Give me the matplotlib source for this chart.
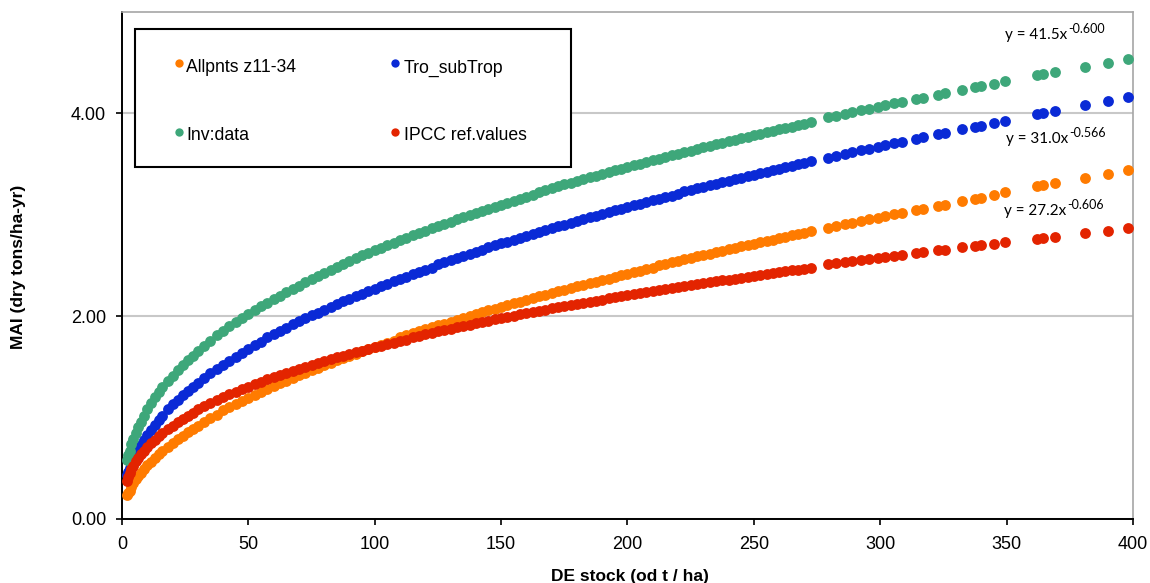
import matplotlib
matplotlib.use('Agg')
import matplotlib.pyplot as plt
from matplotlib.patches import Rectangle

plt.rcParams['font.family'] = ['Liberation Sans', 'DejaVu Sans']

# DE stock (od t/ha) - dense part up to ~273, then the scattered points
de_stock = [2, 2.5, 3, 3.75, 4.5, 5.5, 6.5, 7.5, 8.75, 10,
            11.5, 13, 14.5, 16, 18, 20, 22, 24, 26, 28,
            30, 32.5, 35, 37.5, 40, 42.5, 45, 47.5, 50, 52.5,
            55, 57.5, 60, 62.5, 65, 67.5, 70, 72.5, 75, 77.5,
            80, 82.5, 85, 87.5, 90, 92.5, 95, 97.5, 100, 102.5,
            105, 107.5, 110, 112.5, 115, 117.5, 120, 122.5, 125, 127.5,
            130, 132.5, 135, 137.5, 140, 142.5, 145, 147.5, 150, 152.5,
            155, 157.5, 160, 162.5, 165, 167.5, 170, 172.5, 175, 177.5,
            180, 182.5, 185, 187.5, 190, 192.5, 195, 197.5, 200, 202.5,
            205, 207.5, 210, 212.5, 215, 217.5, 220, 222.5, 225, 227.5,
            230, 232.5, 235, 237.5, 240, 242.5, 245, 247.5, 250, 252.5,
            255, 257.5, 260, 262.5, 265, 267.5, 270, 272.5,
            279.5, 282.5, 286, 289, 292.5, 295.5, 299, 302, 305.5, 308.5,
            314, 317, 323, 325.5, 332.5, 337.5, 340, 345, 349.5, 362,
            364.5, 369, 381, 390, 398]

# MAI (dry tons/ha-yr)
mai_allpnts = [0.24, 0.26, 0.28, 0.32, 0.35, 0.39, 0.42, 0.45, 0.49, 0.53,
               0.56, 0.60, 0.64, 0.67, 0.71, 0.75, 0.79, 0.82, 0.86, 0.89,
               0.92, 0.96, 1.00, 1.03, 1.07, 1.10, 1.13, 1.16, 1.19, 1.22,
               1.25, 1.28, 1.31, 1.34, 1.36, 1.39, 1.42, 1.44, 1.47, 1.49,
               1.52, 1.54, 1.57, 1.59, 1.61, 1.63, 1.66, 1.68, 1.70, 1.72,
               1.74, 1.76, 1.79, 1.81, 1.83, 1.85, 1.87, 1.89, 1.91, 1.92,
               1.94, 1.96, 1.98, 2.00, 2.02, 2.04, 2.06, 2.07, 2.09, 2.11,
               2.13, 2.14, 2.16, 2.18, 2.20, 2.21, 2.23, 2.25, 2.26, 2.28,
               2.30, 2.31, 2.33, 2.34, 2.36, 2.37, 2.39, 2.41, 2.42, 2.44,
               2.45, 2.47, 2.48, 2.50, 2.51, 2.53, 2.54, 2.56, 2.57, 2.59,
               2.60, 2.61, 2.63, 2.64, 2.66, 2.67, 2.69, 2.70, 2.71, 2.73,
               2.74, 2.75, 2.77, 2.78, 2.80, 2.81, 2.82, 2.84,
               2.87, 2.89, 2.91, 2.92, 2.94, 2.96, 2.97, 2.99, 3.01, 3.02,
               3.05, 3.06, 3.09, 3.10, 3.14, 3.16, 3.17, 3.20, 3.22, 3.28,
               3.29, 3.31, 3.36, 3.40, 3.44]

mai_trop = [0.43, 0.46, 0.50, 0.54, 0.59, 0.64, 0.69, 0.73, 0.78, 0.83,
            0.88, 0.93, 0.98, 1.02, 1.08, 1.13, 1.17, 1.22, 1.26, 1.30,
            1.34, 1.39, 1.44, 1.48, 1.52, 1.56, 1.60, 1.64, 1.68, 1.72,
            1.75, 1.79, 1.82, 1.85, 1.88, 1.92, 1.95, 1.98, 2.01, 2.03,
            2.06, 2.09, 2.12, 2.15, 2.17, 2.20, 2.22, 2.25, 2.27, 2.30,
            2.32, 2.35, 2.37, 2.39, 2.42, 2.44, 2.46, 2.48, 2.51, 2.53,
            2.55, 2.57, 2.59, 2.61, 2.63, 2.65, 2.68, 2.70, 2.72, 2.73,
            2.75, 2.77, 2.79, 2.81, 2.83, 2.85, 2.87, 2.89, 2.90, 2.92,
            2.94, 2.96, 2.98, 2.99, 3.01, 3.03, 3.05, 3.06, 3.08, 3.10,
            3.11, 3.13, 3.15, 3.16, 3.18, 3.19, 3.21, 3.23, 3.24, 3.26,
            3.27, 3.29, 3.30, 3.32, 3.33, 3.35, 3.36, 3.38, 3.39, 3.41,
            3.42, 3.44, 3.45, 3.47, 3.48, 3.50, 3.51, 3.53,
            3.56, 3.58, 3.60, 3.62, 3.64, 3.65, 3.67, 3.69, 3.71, 3.72,
            3.75, 3.77, 3.80, 3.81, 3.85, 3.87, 3.88, 3.91, 3.93, 3.99,
            4.00, 4.02, 4.08, 4.12, 4.16]

mai_inv = [0.58, 0.63, 0.67, 0.74, 0.79, 0.85, 0.91, 0.96, 1.02, 1.08,
           1.14, 1.20, 1.25, 1.30, 1.36, 1.41, 1.47, 1.52, 1.57, 1.61,
           1.66, 1.71, 1.76, 1.81, 1.85, 1.90, 1.94, 1.98, 2.02, 2.06,
           2.10, 2.13, 2.17, 2.20, 2.24, 2.27, 2.30, 2.34, 2.37, 2.40,
           2.43, 2.46, 2.49, 2.51, 2.54, 2.57, 2.60, 2.62, 2.65, 2.67,
           2.70, 2.72, 2.75, 2.77, 2.80, 2.82, 2.84, 2.87, 2.89, 2.91,
           2.93, 2.96, 2.98, 3.00, 3.02, 3.04, 3.06, 3.08, 3.10, 3.12,
           3.14, 3.16, 3.18, 3.20, 3.22, 3.24, 3.26, 3.28, 3.30, 3.31,
           3.33, 3.35, 3.37, 3.38, 3.40, 3.42, 3.44, 3.45, 3.47, 3.49,
           3.50, 3.52, 3.54, 3.55, 3.57, 3.59, 3.60, 3.62, 3.63, 3.65,
           3.67, 3.68, 3.70, 3.71, 3.73, 3.74, 3.76, 3.77, 3.79, 3.80,
           3.82, 3.83, 3.85, 3.86, 3.87, 3.89, 3.90, 3.92,
           3.96, 3.97, 3.99, 4.01, 4.03, 4.04, 4.06, 4.08, 4.10, 4.11,
           4.14, 4.15, 4.18, 4.20, 4.23, 4.26, 4.27, 4.29, 4.32, 4.38,
           4.39, 4.41, 4.46, 4.50, 4.54]

mai_ipcc = [0.37, 0.41, 0.45, 0.49, 0.52, 0.57, 0.60, 0.64, 0.67, 0.71,
            0.75, 0.78, 0.82, 0.85, 0.89, 0.92, 0.96, 0.99, 1.02, 1.05,
            1.08, 1.11, 1.14, 1.17, 1.20, 1.23, 1.25, 1.28, 1.30, 1.33,
            1.35, 1.38, 1.40, 1.42, 1.44, 1.46, 1.48, 1.50, 1.52, 1.54,
            1.56, 1.58, 1.60, 1.61, 1.63, 1.65, 1.66, 1.68, 1.70, 1.71,
            1.73, 1.74, 1.76, 1.77, 1.79, 1.80, 1.82, 1.83, 1.85, 1.86,
            1.87, 1.89, 1.90, 1.91, 1.93, 1.94, 1.95, 1.97, 1.98, 1.99,
            2.00, 2.02, 2.03, 2.04, 2.05, 2.06, 2.08, 2.09, 2.10, 2.11,
            2.12, 2.13, 2.14, 2.15, 2.16, 2.18, 2.19, 2.20, 2.21, 2.22,
            2.23, 2.24, 2.25, 2.26, 2.27, 2.28, 2.29, 2.30, 2.31, 2.32,
            2.33, 2.34, 2.35, 2.355, 2.36, 2.37, 2.38, 2.39, 2.40, 2.41,
            2.42, 2.43, 2.44, 2.45, 2.455, 2.46, 2.47, 2.48,
            2.51, 2.52, 2.53, 2.54, 2.55, 2.56, 2.57, 2.58, 2.59, 2.60,
            2.62, 2.63, 2.65, 2.655, 2.68, 2.69, 2.70, 2.71, 2.73, 2.76,
            2.77, 2.78, 2.82, 2.84, 2.87]

labels = ['Allpnts z11-34', 'Tro_subTrop', 'Inv:data', 'IPCC ref.values']
colors = ['#ff7b00', '#0a2ad6', '#3ea77a', '#e32400']

# power-fit labels: text, superscript, x, y (baseline)
eq_text = ['y = 41.5x', 'y = 31.0x', 'y = 27.2x']
eq_sup = ['-0.600', '-0.566', '-0.606']
eq_x = [349.4, 349.8, 349.0]
eq_y = [4.738, 3.711, 3.000]

fig = plt.figure(figsize=(11.5, 5.83), dpi=100)
ax = fig.add_axes([0.1061, 0.1098, 0.8791, 0.8696])

series = [mai_allpnts, mai_trop, mai_inv, mai_ipcc]
for vals, col in zip(series, colors):
    ax.plot(de_stock, vals, 'o', ls='none', ms=7.8, mfc=col, mec='none', zorder=3)

ax.set_xlim(0, 400)
ax.set_ylim(0, 5)
ax.set_xticks(range(0, 401, 50))
ax.set_yticks([0, 2, 4])
ax.set_yticklabels(['0.00', '2.00', '4.00'])
ax.yaxis.grid(True, color='#c8c8c8', lw=1.5)
ax.set_axisbelow(True)

for s in ['left', 'bottom']:
    ax.spines[s].set_linewidth(1.4)
    ax.spines[s].set_color('black')
for s in ['top', 'right']:
    ax.spines[s].set_linewidth(1.2)
    ax.spines[s].set_color('#a6a6a6')
ax.tick_params(direction='out', length=4.5, width=1.2, labelsize=13)
ax.tick_params(axis='x', pad=8)
ax.tick_params(axis='y', pad=7)

fig.text(18.5 / 1150, 1 - 267 / 583, 'MAI (dry tons/ha-yr)', rotation=90,
         ha='center', va='center', fontsize=12.5, fontweight='bold')
fig.text(630 / 1150, 1.5 / 583, 'DE stock (od t / ha)', ha='center',
         va='baseline', fontsize=12.5, fontweight='bold')

# equations of the trend lines, exponent placed right after the main text
for t, sup, x, y in zip(eq_text, eq_sup, eq_x, eq_y):
    main = ax.text(x, y, t, family='Lato', fontsize=11, ha='left', va='baseline', zorder=5)
    ax.annotate(sup, xy=(1, y), xycoords=(main, 'data'), xytext=(0.8, 4.3),
                textcoords='offset points', family='Lato', fontsize=9,
                ha='left', va='baseline', zorder=5)

# legend box, drawn by hand to match the excel layout
ax.add_patch(Rectangle((0.01286, 0.6943), 0.4312, 0.2722, transform=ax.transAxes,
                       facecolor='white', edgecolor='black', lw=1.5, zorder=4))
leg_mx = [0.0559, 0.2705, 0.0559, 0.2705]
leg_my = [0.900, 0.900, 0.7639, 0.7639]
leg_tx = [0.0633, 0.2789, 0.0633, 0.2789]
leg_ty = [0.8807, 0.8807, 0.7475, 0.7475]
for i in range(4):
    ax.plot([leg_mx[i]], [leg_my[i]], 'o', ms=6, mfc=colors[i], mec='none',
            transform=ax.transAxes, zorder=5, clip_on=False)
    ax.text(leg_tx[i], leg_ty[i], labels[i], transform=ax.transAxes,
            fontsize=12.7, ha='left', va='baseline', zorder=5)

plt.savefig('out.png', dpi=100)
